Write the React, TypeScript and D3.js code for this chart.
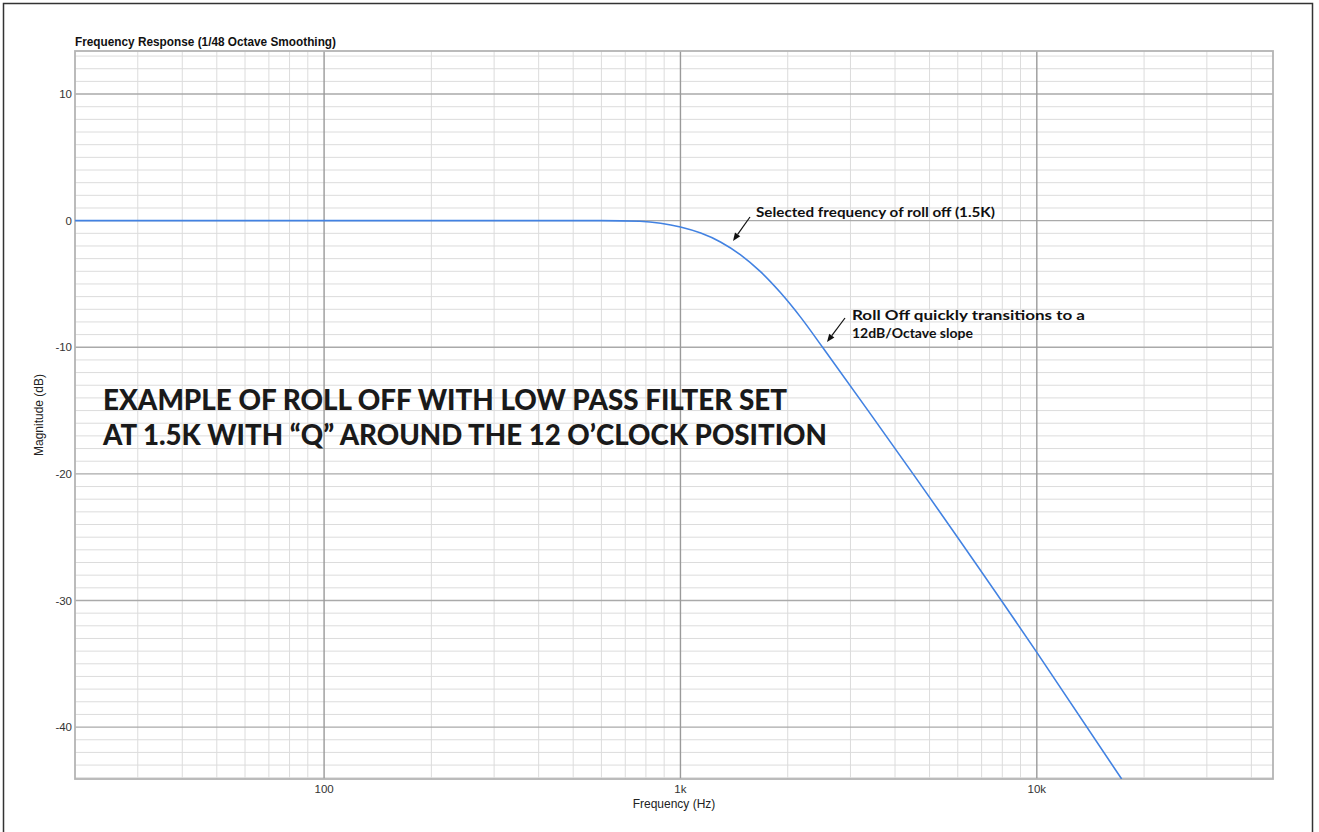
import React from "react";
import * as d3 from "d3";

// ---- Data ----
const freqHz = [20, 100, 300, 600, 770, 880, 1000, 1140, 1295, 1475, 1680, 1910, 2170, 2505, 3420, 4520, 10000, 17300];
const magnitudeDb = [0, 0, 0, 0, -0.05, -0.2, -0.5, -0.98, -1.68, -2.7, -4.05, -5.7, -7.6, -10, -15.3, -20.1, -34.1, -44.1];

const yTickValues = [10, 0, -10, -20, -30, -40];
const yTickLabels = ["10", "0", "-10", "-20", "-30", "-40"];
const xTickValues = [100, 1000, 10000];
const xTickLabels = ["100", "1k", "10k"];
const xMinorValues = [30, 40, 50, 60, 70, 80, 90, 200, 300, 400, 500, 600, 700, 800, 900, 2000, 3000, 4000, 5000, 6000, 7000, 8000, 9000, 20000, 30000, 40000];

const titleText = "Frequency Response (1/48 Octave Smoothing)";
const xAxisTitle = "Frequency (Hz)";
const yAxisTitle = "Magnitude (dB)";
const bigTextLines = ["EXAMPLE OF ROLL OFF WITH LOW PASS FILTER SET", "AT 1.5K WITH \u201CQ\u201D AROUND THE 12 O\u2019CLOCK POSITION"];
const note1 = "Selected frequency of roll off (1.5K)";
const note2Lines = ["Roll Off quickly transitions to a", "12dB/Octave slope"];

const W = 1319;
const H = 832;
const L = 75, R = 1273, T = 51, B = 779;

export default function App() {
  const x = d3.scaleLog().domain([20, 46000]).range([L, R]);
  const y = d3.scaleLinear().domain([-44.1, 13.4]).range([B, T]);
  const pts = freqHz.map((f, i) => [f, magnitudeDb[i]] as [number, number]);
  const line = d3
    .line<[number, number]>()
    .x((d) => x(d[0]))
    .y((d) => y(d[1]))
    .curve(d3.curveMonotoneX);

  const minorY = d3.range(-44, 14, 1).filter((v) => v % 10 !== 0);
  const sans = "'Liberation Sans', Arial, Helvetica, sans-serif";
  const myriad = "Lato, 'Open Sans', sans-serif";

  const arrow = (x1: number, y1: number, x2: number, y2: number, key: string) => {
    const ang = Math.atan2(y2 - y1, x2 - x1);
    const len = 8, half = 3.2;
    const bx = x2 - len * Math.cos(ang), by = y2 - len * Math.sin(ang);
    const px = -Math.sin(ang) * half, py = Math.cos(ang) * half;
    return (
      <g key={key}>
        <line x1={x1} y1={y1} x2={bx} y2={by} stroke="#111" strokeWidth={1.2} />
        <polygon points={`${x2},${y2} ${bx + px},${by + py} ${bx - px},${by - py}`} fill="#111" />
      </g>
    );
  };

  return (
    <svg
      width={W}
      height={H}
      style={{ position: "absolute", left: 0, top: 0, background: "#fff" }}
    >
      <rect x={0} y={0} width={W} height={H} fill="#fff" />
      <rect x={3.5} y={3.5} width={1309} height={840} fill="none" stroke="#333" strokeWidth={1.5} />

      <defs>
        <clipPath id="plotClip">
          <rect x={L} y={T} width={R - L} height={B - T} />
        </clipPath>
      </defs>

      {/* minor grid */}
      {minorY.map((v) => (
        <line key={"my" + v} x1={L} x2={R} y1={y(v)} y2={y(v)} stroke="#dcdcdc" strokeWidth={1} />
      ))}
      {xMinorValues.map((v) => (
        <line key={"mx" + v} x1={x(v)} x2={x(v)} y1={T} y2={B} stroke="#dcdcdc" strokeWidth={1} />
      ))}
      {/* major grid */}
      {yTickValues.map((v) => (
        <line key={"My" + v} x1={L} x2={R} y1={y(v)} y2={y(v)} stroke="#aaaaaa" strokeWidth={1.4} />
      ))}
      {xTickValues.map((v) => (
        <line key={"Mx" + v} x1={x(v)} x2={x(v)} y1={T} y2={B} stroke="#9a9a9a" strokeWidth={1.4} />
      ))}
      <rect x={L} y={T} width={R - L} height={B - T} fill="none" stroke="#b4b4b4" strokeWidth={1.8} />

      {/* curve */}
      <path d={line(pts) || ""} fill="none" stroke="#4282e2" strokeWidth={1.6} clipPath="url(#plotClip)" />

      {/* ticks */}
      {yTickValues.map((v, i) => (
        <text key={"yt" + v} x={72} y={y(v)} dy="0.35em" textAnchor="end" fontFamily={sans} fontSize={11.5} fill="#333">
          {yTickLabels[i]}
        </text>
      ))}
      {xTickValues.map((v, i) => (
        <text key={"xt" + v} x={x(v)} y={793} textAnchor="middle" fontFamily={sans} fontSize={11.5} fill="#333">
          {xTickLabels[i]}
        </text>
      ))}

      {/* titles */}
      <text x={75} y={46} fontFamily={sans} fontWeight="bold" fontSize={13.5} fill="#111" textLength={261} lengthAdjust="spacingAndGlyphs">
        {titleText}
      </text>
      <text x={(L + R) / 2} y={808} textAnchor="middle" fontFamily={sans} fontSize={12} fill="#222">
        {xAxisTitle}
      </text>
      <text transform={`translate(43, ${(T + B) / 2}) rotate(-90)`} textAnchor="middle" fontFamily={sans} fontSize={12} fill="#222">
        {yAxisTitle}
      </text>

      {/* big text */}
      <text x={103} y={410} fontFamily={myriad} fontWeight={900} fontSize={28} fill="#1a1a1a" textLength={684} lengthAdjust="spacingAndGlyphs">
        {bigTextLines[0]}
      </text>
      <text x={103} y={445} fontFamily={myriad} fontWeight={900} fontSize={28} fill="#1a1a1a" textLength={724} lengthAdjust="spacingAndGlyphs">
        {bigTextLines[1]}
      </text>

      {/* annotations */}
      <text x={756} y={217} fontFamily={myriad} fontWeight="bold" fontSize={12.5} fill="#111" textLength={239} lengthAdjust="spacingAndGlyphs">
        {note1}
      </text>
      <text x={852} y={320} fontFamily={myriad} fontWeight="bold" fontSize={12.5} fill="#111" textLength={233} lengthAdjust="spacingAndGlyphs">
        {note2Lines[0]}
      </text>
      <text x={852} y={338} fontFamily={myriad} fontWeight="bold" fontSize={12.5} fill="#111" textLength={121} lengthAdjust="spacingAndGlyphs">
        {note2Lines[1]}
      </text>
      {arrow(750, 217, 733, 241, "a1")}
      {arrow(845, 318, 827, 342, "a2")}
    </svg>
  );
}
